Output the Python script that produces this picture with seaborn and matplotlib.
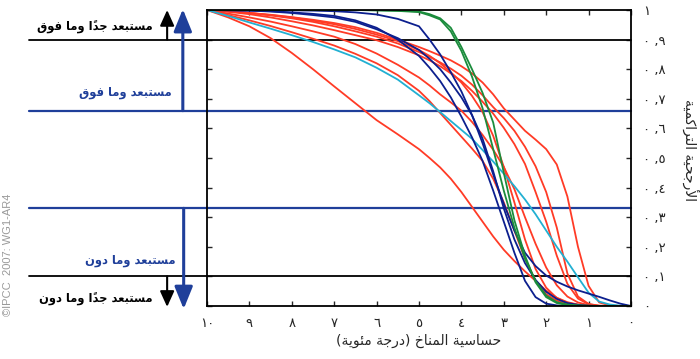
import pandas as pd
import matplotlib
matplotlib.use("Agg")
import matplotlib.pyplot as plt
import seaborn as sns

# climate sensitivity grid (deg C), shared by every curve
sens = [10, 9.5, 9, 8.5, 8, 7.5, 7, 6.5, 6, 5.5, 5, 4.75, 4.5, 4.25, 4, 3.75, 3.5, 3.25, 3,
        2.75, 2.5, 2.25, 2, 1.75, 1.5, 1.25, 1, 0.75, 0.5, 0.25, 0]

# cumulative likelihood
red_1 = [1, 0.975, 0.945, 0.905, 0.855, 0.8, 0.742, 0.685, 0.628, 0.58, 0.53, 0.5, 0.468, 0.43,
         0.385, 0.335, 0.285, 0.235, 0.19, 0.152, 0.117, 0.085, 0.052, 0.028, 0.013, 0.005,
         0.002, 0, 0, 0, 0]
red_2 = [1, 0.983, 0.965, 0.946, 0.925, 0.903, 0.88, 0.852, 0.82, 0.78, 0.727, 0.692, 0.652,
         0.612, 0.572, 0.532, 0.49, 0.43, 0.35, 0.255, 0.16, 0.085, 0.04, 0.018, 0.007, 0.002,
         0, 0, 0, 0, 0]
red_3 = [1, 0.988, 0.975, 0.961, 0.945, 0.928, 0.91, 0.885, 0.853, 0.815, 0.772, 0.745, 0.715,
         0.688, 0.66, 0.622, 0.578, 0.528, 0.47, 0.395, 0.3, 0.21, 0.13, 0.07, 0.032, 0.012,
         0.003, 0, 0, 0, 0]
red_4 = [1, 0.994, 0.986, 0.975, 0.962, 0.948, 0.932, 0.915, 0.898, 0.875, 0.847, 0.83, 0.81,
         0.786, 0.76, 0.727, 0.69, 0.65, 0.602, 0.547, 0.48, 0.385, 0.285, 0.17, 0.075, 0.025,
         0.006, 0.001, 0, 0, 0]
red_5 = [1, 0.996, 0.99, 0.982, 0.972, 0.96, 0.945, 0.928, 0.91, 0.887, 0.858, 0.842, 0.823,
         0.802, 0.778, 0.748, 0.712, 0.672, 0.635, 0.592, 0.538, 0.472, 0.385, 0.265, 0.11,
         0.032, 0.007, 0.001, 0, 0, 0]
red_6 = [1, 0.996, 0.99, 0.984, 0.976, 0.967, 0.956, 0.942, 0.923, 0.9, 0.875, 0.861, 0.846,
         0.83, 0.81, 0.786, 0.755, 0.715, 0.668, 0.63, 0.592, 0.562, 0.53, 0.478, 0.37, 0.2,
         0.068, 0.012, 0.002, 0, 0]
red_7 = [1, 0.996, 0.99, 0.983, 0.975, 0.964, 0.952, 0.936, 0.917, 0.895, 0.865, 0.845, 0.82,
         0.79, 0.755, 0.71, 0.655, 0.575, 0.47, 0.35, 0.225, 0.125, 0.062, 0.027, 0.011, 0.004,
         0.001, 0, 0, 0, 0]
cyan_1 = [1, 0.98, 0.958, 0.937, 0.915, 0.892, 0.867, 0.84, 0.805, 0.765, 0.712, 0.685, 0.655,
          0.625, 0.595, 0.565, 0.527, 0.488, 0.447, 0.405, 0.36, 0.31, 0.255, 0.2, 0.15, 0.097,
          0.045, 0.015, 0.005, 0.001, 0]
navy_1 = [1, 0.9995, 0.998, 0.996, 0.992, 0.987, 0.98, 0.965, 0.94, 0.9, 0.845, 0.805, 0.76,
          0.705, 0.64, 0.57, 0.49, 0.39, 0.285, 0.18, 0.085, 0.03, 0.008, 0.002, 0, 0, 0, 0,
          0, 0, 0]
navy_2 = [1, 0.999, 0.998, 0.995, 0.99, 0.983, 0.975, 0.96, 0.935, 0.905, 0.865, 0.835, 0.8,
          0.755, 0.705, 0.645, 0.565, 0.455, 0.33, 0.225, 0.145, 0.088, 0.048, 0.024, 0.01,
          0.004, 0.001, 0, 0, 0, 0]
navy_3 = [1, 1, 1, 1, 0.999, 0.998, 0.996, 0.992, 0.985, 0.97, 0.945, 0.9, 0.85, 0.79, 0.725,
          0.645, 0.55, 0.445, 0.345, 0.255, 0.18, 0.135, 0.103, 0.082, 0.066, 0.053, 0.042,
          0.031, 0.019, 0.008, 0]
green_1 = [1, 1, 1, 1, 1, 1, 1, 1, 0.999, 0.997, 0.993, 0.982, 0.968, 0.928, 0.862, 0.775,
           0.668, 0.53, 0.39, 0.265, 0.16, 0.085, 0.035, 0.013, 0.005, 0.002, 0.001, 0, 0, 0, 0]
green_2 = [1, 1, 1, 1, 1, 1, 1, 1, 0.999, 0.998, 0.995, 0.986, 0.972, 0.94, 0.875, 0.8, 0.72,
           0.62, 0.45, 0.29, 0.17, 0.08, 0.03, 0.01, 0.003, 0.001, 0, 0, 0, 0, 0]

curves = {
    'red_1': red_1, 'red_2': red_2, 'red_3': red_3, 'red_4': red_4,
    'red_5': red_5, 'red_6': red_6, 'red_7': red_7, 'cyan_1': cyan_1,
    'navy_1': navy_1, 'navy_2': navy_2, 'navy_3': navy_3,
    'green_1': green_1, 'green_2': green_2,
}
base_colors = {'red': '#ff3b26', 'cyan': '#22b0d2', 'navy': '#0c1f8e', 'green': '#1b8c3c'}

xtick_vals = [10, 9, 8, 7, 6, 5, 4, 3, 2, 1, 0]
xtick_text = ['١٠', '٩', '٨', '٧', '٦', '٥', '٤', '٣', '٢', '١', '٠']
ytick_vals = [0, 0.1, 0.2, 0.3, 0.4, 0.5, 0.6, 0.7, 0.8, 0.9, 1]
ytick_text = ['٠', '٠ ,١', '٠ ,٢', '٠ ,٣', '٠ ,٤', '٠ ,٥', '٠ ,٦', '٠ ,٧', '٠ ,٨', '٠ ,٩', '١']

# minimal arabic shaping (matplotlib has no bidi / joining support)
FORMS = {
    'ا': ('\ufe8d', '\ufe8e', None, None),
    'أ': ('\ufe83', '\ufe84', None, None),
    'ب': ('\ufe8f', '\ufe90', '\ufe91', '\ufe92'),
    'ة': ('\ufe93', '\ufe94', None, None),
    'ت': ('\ufe95', '\ufe96', '\ufe97', '\ufe98'),
    'ج': ('\ufe9d', '\ufe9e', '\ufe9f', '\ufea0'),
    'ح': ('\ufea1', '\ufea2', '\ufea3', '\ufea4'),
    'خ': ('\ufea5', '\ufea6', '\ufea7', '\ufea8'),
    'د': ('\ufea9', '\ufeaa', None, None),
    'ر': ('\ufead', '\ufeae', None, None),
    'س': ('\ufeb1', '\ufeb2', '\ufeb3', '\ufeb4'),
    'ع': ('\ufec9', '\ufeca', '\ufecb', '\ufecc'),
    'ف': ('\ufed1', '\ufed2', '\ufed3', '\ufed4'),
    'ق': ('\ufed5', '\ufed6', '\ufed7', '\ufed8'),
    'ك': ('\ufed9', '\ufeda', '\ufedb', '\ufedc'),
    'ل': ('\ufedd', '\ufede', '\ufedf', '\ufee0'),
    'م': ('\ufee1', '\ufee2', '\ufee3', '\ufee4'),
    'ن': ('\ufee5', '\ufee6', '\ufee7', '\ufee8'),
    'و': ('\ufeed', '\ufeee', None, None),
    'ي': ('\ufef1', '\ufef2', '\ufef3', '\ufef4'),
    'ئ': ('\ufe89', '\ufe8a', '\ufe8b', '\ufe8c'),
}
LAM_ALEF = {'ا': ('\ufefb', '\ufefc'), 'أ': ('\ufef7', '\ufef8')}
MARKS = {'\u064b'}
MIRROR = {'(': ')', ')': '('}


def shape(text):
    chars = list(text)
    n = len(chars)

    def prev_joins(i):
        j = i - 1
        while j >= 0 and chars[j] in MARKS:
            j -= 1
        return j >= 0 and chars[j] in FORMS and FORMS[chars[j]][2] is not None

    def has_next(i):
        j = i + 1
        while j < n and chars[j] in MARKS:
            j += 1
        return j < n and chars[j] in FORMS

    out = []
    i = 0
    while i < n:
        c = chars[i]
        if c in MARKS:
            out[-1] += c
            i += 1
            continue
        if c in FORMS:
            p = prev_joins(i)
            if c == 'ل' and i + 1 < n and chars[i + 1] in LAM_ALEF:
                out.append(LAM_ALEF[chars[i + 1]][1 if p else 0])
                i += 2
                continue
            iso, fin, ini, med = FORMS[c]
            fwd = ini is not None and has_next(i)
            out.append(med if p and fwd else fin if p else ini if fwd else iso)
        else:
            out.append(MIRROR.get(c, c))
        i += 1
    return ''.join(reversed(out))


rows = []
for name, vals in curves.items():
    for s, v in zip(sens, vals):
        rows.append({'sens': s, 'prob': v, 'curve': name})
df = pd.DataFrame(rows)
palette = {name: base_colors[name.split('_')[0]] for name in curves}

sns.set_style("ticks")
plt.rcParams['font.family'] = ['DejaVu Sans']

fig = plt.figure(figsize=(7, 3.59), dpi=100)
ax = fig.add_axes([0.2957, 0.1476, 0.6057, 0.8245])

sns.lineplot(data=df, x='sens', y='prob', hue='curve', hue_order=list(curves),
             palette=palette, estimator=None, sort=False, legend=False,
             linewidth=1.3, ax=ax)

ax.set_xlim(10, 0)
ax.set_ylim(0, 1)
ax.set_xticks(xtick_vals)
ax.set_xticklabels(xtick_text, fontsize=9.5)
ax.set_yticks(ytick_vals)
ax.set_yticklabels(ytick_text, fontsize=9.5)
ax.yaxis.tick_right()
ax.tick_params(direction='in', length=3.5, width=1, top=True, bottom=True,
               left=True, right=True, labelleft=False, labelright=True, pad=9)
ax.tick_params(axis='x', pad=8)
for sp in ax.spines.values():
    sp.set_visible(True)
    sp.set_linewidth(1.3)
    sp.set_color('black')
ax.set_xlabel(shape('حساسية المناخ (درجة مئوية)'), fontsize=10, labelpad=3)
ax.set_ylabel('')

# likelihood thresholds, extending into the label column
hblue = '#1f3f9a'
ax.axhline(0.9, xmin=-0.42, xmax=1, color='black', lw=1.3, clip_on=False, zorder=1)
ax.axhline(0.66, xmin=-0.42, xmax=1, color=hblue, lw=1.6, clip_on=False, zorder=1)
ax.axhline(0.33, xmin=-0.42, xmax=1, color=hblue, lw=1.6, clip_on=False, zorder=1)
ax.axhline(0.1, xmin=-0.42, xmax=1, color='black', lw=1.3, clip_on=False, zorder=1)

coords = ('axes fraction', 'data')
black_arrow = dict(arrowstyle='-|>,head_length=0.95,head_width=0.43', color='black',
                   lw=1.5, shrinkA=0, shrinkB=0)
blue_arrow = dict(arrowstyle='-|>,head_length=1.35,head_width=0.55', color=hblue,
                  lw=2.2, shrinkA=0, shrinkB=0)
ax.annotate('', xy=(-0.094, 1.0), xytext=(-0.094, 0.9), xycoords=coords,
            textcoords=coords, arrowprops=black_arrow, annotation_clip=False)
ax.annotate('', xy=(-0.057, 1.003), xytext=(-0.057, 0.66), xycoords=coords,
            textcoords=coords, arrowprops=blue_arrow, annotation_clip=False)
ax.annotate('', xy=(-0.094, -0.003), xytext=(-0.094, 0.1), xycoords=coords,
            textcoords=coords, arrowprops=black_arrow, annotation_clip=False)
ax.annotate('', xy=(-0.055, -0.01), xytext=(-0.055, 0.33), xycoords=coords,
            textcoords=coords, arrowprops=blue_arrow, annotation_clip=False)

fig.text(0.2186, 0.925, shape('مستبعد جداً وما فوق'), ha='right', va='center',
         fontsize=8.3, fontweight='bold', color='black')
fig.text(0.2457, 0.7437, shape('مستبعد وما فوق'), ha='right', va='center',
         fontsize=8.3, fontweight='bold', color=hblue)
fig.text(0.2514, 0.273, shape('مستبعد وما دون'), ha='right', va='center',
         fontsize=8.3, fontweight='bold', color=hblue)
fig.text(0.2186, 0.167, shape('مستبعد جداً وما دون'), ha='right', va='center',
         fontsize=8.3, fontweight='bold', color='black')

fig.text(0.986, 0.582, shape('الأرجحية التراكمية'), rotation=270, ha='center',
         va='center', fontsize=10)
fig.text(0.012, 0.29, '©IPCC  2007: WG1-AR4', rotation=90, ha='center', va='center',
         fontsize=8, color='#9a9a9a', family=['Liberation Sans', 'DejaVu Sans'])

fig.savefig('out.png', dpi=100)
